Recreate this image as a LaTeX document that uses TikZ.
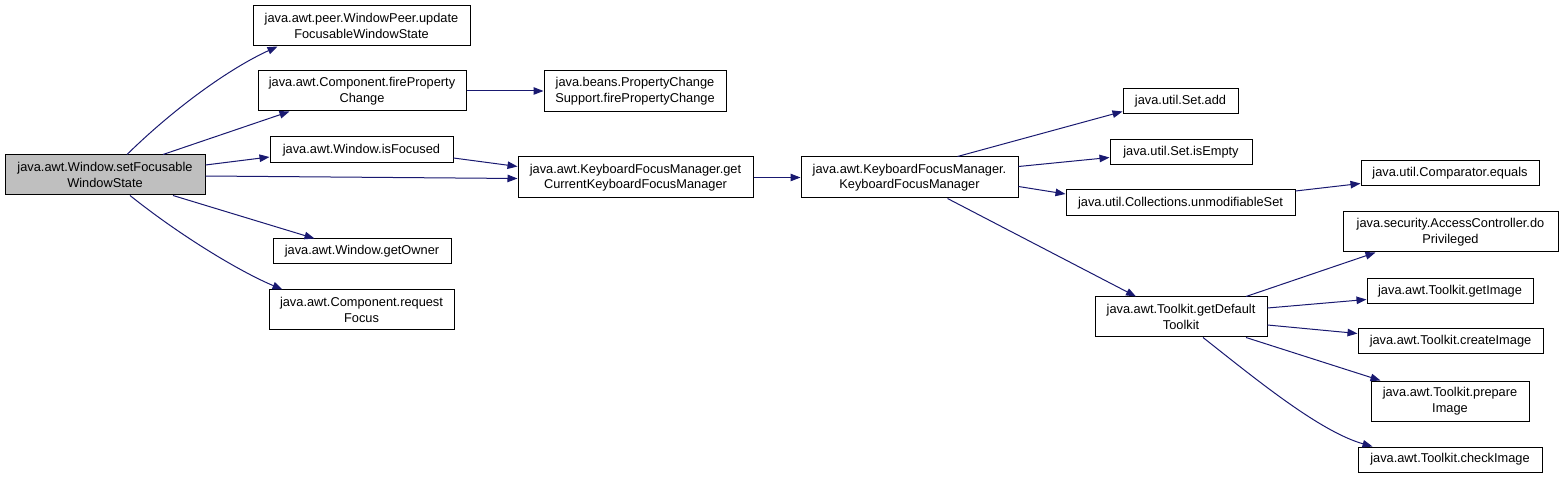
\documentclass[tikz,border=0pt]{standalone}
\usepackage{fontspec}
\setmainfont{Liberation Sans}
\usetikzlibrary{arrows.meta,calc}
\definecolor{edgeblue}{RGB}{25,25,112}
\definecolor{mainfill}{RGB}{191,191,191}
\begin{document}
\begin{tikzpicture}[x=1pt,y=-1pt,
  box/.style={draw=black,line width=1pt,fill=white,inner sep=0pt,align=center,
    font=\fontsize{12.8}{15.5}\selectfont},
  edge/.style={draw=edgeblue,line width=1pt,-{Triangle[length=10pt,width=7.5pt]}}]
\useasboundingbox (0,0) rectangle (1564,478);
\node[box,fill=mainfill,minimum width=200,minimum height=40] (main) at (105,175) {java.awt.Window.setFocusable\\WindowState};
\node[box,minimum width=217,minimum height=40] (peer) at (361.5,26) {java.awt.peer.WindowPeer.update\\FocusableWindowState};
\node[box,minimum width=208,minimum height=40] (fire) at (362,91) {java.awt.Component.fireProperty\\Change};
\node[box,minimum width=183,minimum height=26] (isfoc) at (361.5,150) {java.awt.Window.isFocused};
\node[box,minimum width=178,minimum height=25] (owner) at (362,251.5) {java.awt.Window.getOwner};
\node[box,minimum width=185,minimum height=40] (req) at (361.5,310) {java.awt.Component.request\\Focus};
\node[box,minimum width=182,minimum height=41] (beans) at (635,91) {java.beans.PropertyChange\\Support.firePropertyChange};
\node[box,minimum width=235,minimum height=41] (getcur) at (635.5,177.5) {java.awt.KeyboardFocusManager.get\\CurrentKeyboardFocusManager};
\node[box,minimum width=217,minimum height=41] (kfm) at (909.5,177.5) {java.awt.KeyboardFocusManager.\\KeyboardFocusManager};
\node[box,minimum width=115,minimum height=25] (setadd) at (1180.5,101.5) {java.util.Set.add};
\node[box,minimum width=142,minimum height=25] (setempty) at (1181,152.5) {java.util.Set.isEmpty};
\node[box,minimum width=229,minimum height=26] (unmod) at (1180.5,203) {java.util.Collections.unmodifiableSet};
\node[box,minimum width=178,minimum height=25] (comp) at (1450,173.5) {java.util.Comparator.equals};
\node[box,minimum width=215,minimum height=40] (access) at (1450.5,232) {java.security.AccessController.do\\Privileged};
\node[box,minimum width=172,minimum height=40] (deftk) at (1181,317) {java.awt.Toolkit.getDefault\\Toolkit};
\node[box,minimum width=166,minimum height=25] (getimg) at (1450,291.5) {java.awt.Toolkit.getImage};
\node[box,minimum width=185,minimum height=25] (createimg) at (1450.5,341.5) {java.awt.Toolkit.createImage};
\node[box,minimum width=158,minimum height=40] (prepimg) at (1450,401) {java.awt.Toolkit.prepare\\Image};
\node[box,minimum width=184,minimum height=25] (checkimg) at (1450,459.5) {java.awt.Toolkit.checkImage};

\draw[edge] ($(main.north)+(22,0)$) .. controls +(48,-47) and +(-48,22) .. ($(peer.south west)+(25,0)$);
\draw[edge] ($(main.north)+(58,0)$) -- ($(fire.south west)+(32,0)$);
\draw[edge] ($(main.east)+(0,-10)$) -- ($(isfoc.west)+(0,7)$);
\draw[edge] ($(main.east)+(0,1)$) -- ($(getcur.west)+(0,1)$);
\draw[edge] ($(main.south)+(68,0)$) -- ($(owner.north west)+(42,0)$);
\draw[edge] ($(main.south)+(25,0)$) .. controls +(50,40) and +(-43,-18) .. ($(req.north west)+(14,0)$);
\draw[edge] ($(isfoc.east)+(0,8)$) -- ($(getcur.west)+(0,-11)$);
\draw[edge] (fire.east) -- (beans.west);
\draw[edge] (getcur.east) -- (kfm.west);
\draw[edge] ($(kfm.north)+(48,0)$) -- ($(setadd.west)+(0,10)$);
\draw[edge] ($(kfm.east)+(0,-11)$) -- ($(setempty.west)+(0,5)$);
\draw[edge] ($(kfm.east)+(0,9)$) -- ($(unmod.west)+(0,-9)$);
\draw[edge] ($(kfm.south)+(38,0)$) -- ($(deftk.north)+(-45,0)$);
\draw[edge] ($(unmod.east)+(0,-12)$) -- ($(comp.west)+(0,10)$);
\draw[edge] ($(deftk.north)+(65,0)$) -- ($(access.south)+(-75,0)$);
\draw[edge] ($(deftk.east)+(0,-9)$) -- ($(getimg.west)+(0,8)$);
\draw[edge] ($(deftk.east)+(0,8)$) -- ($(createimg.west)+(0,-8)$);
\draw[edge] ($(deftk.south)+(65,0)$) -- ($(prepimg.north west)+(10,0)$);
\draw[edge] ($(deftk.south)+(22,0)$) .. controls +(52,41) and +(-53,-15) .. ($(checkimg.north west)+(15,0)$);
\end{tikzpicture}
\end{document}
